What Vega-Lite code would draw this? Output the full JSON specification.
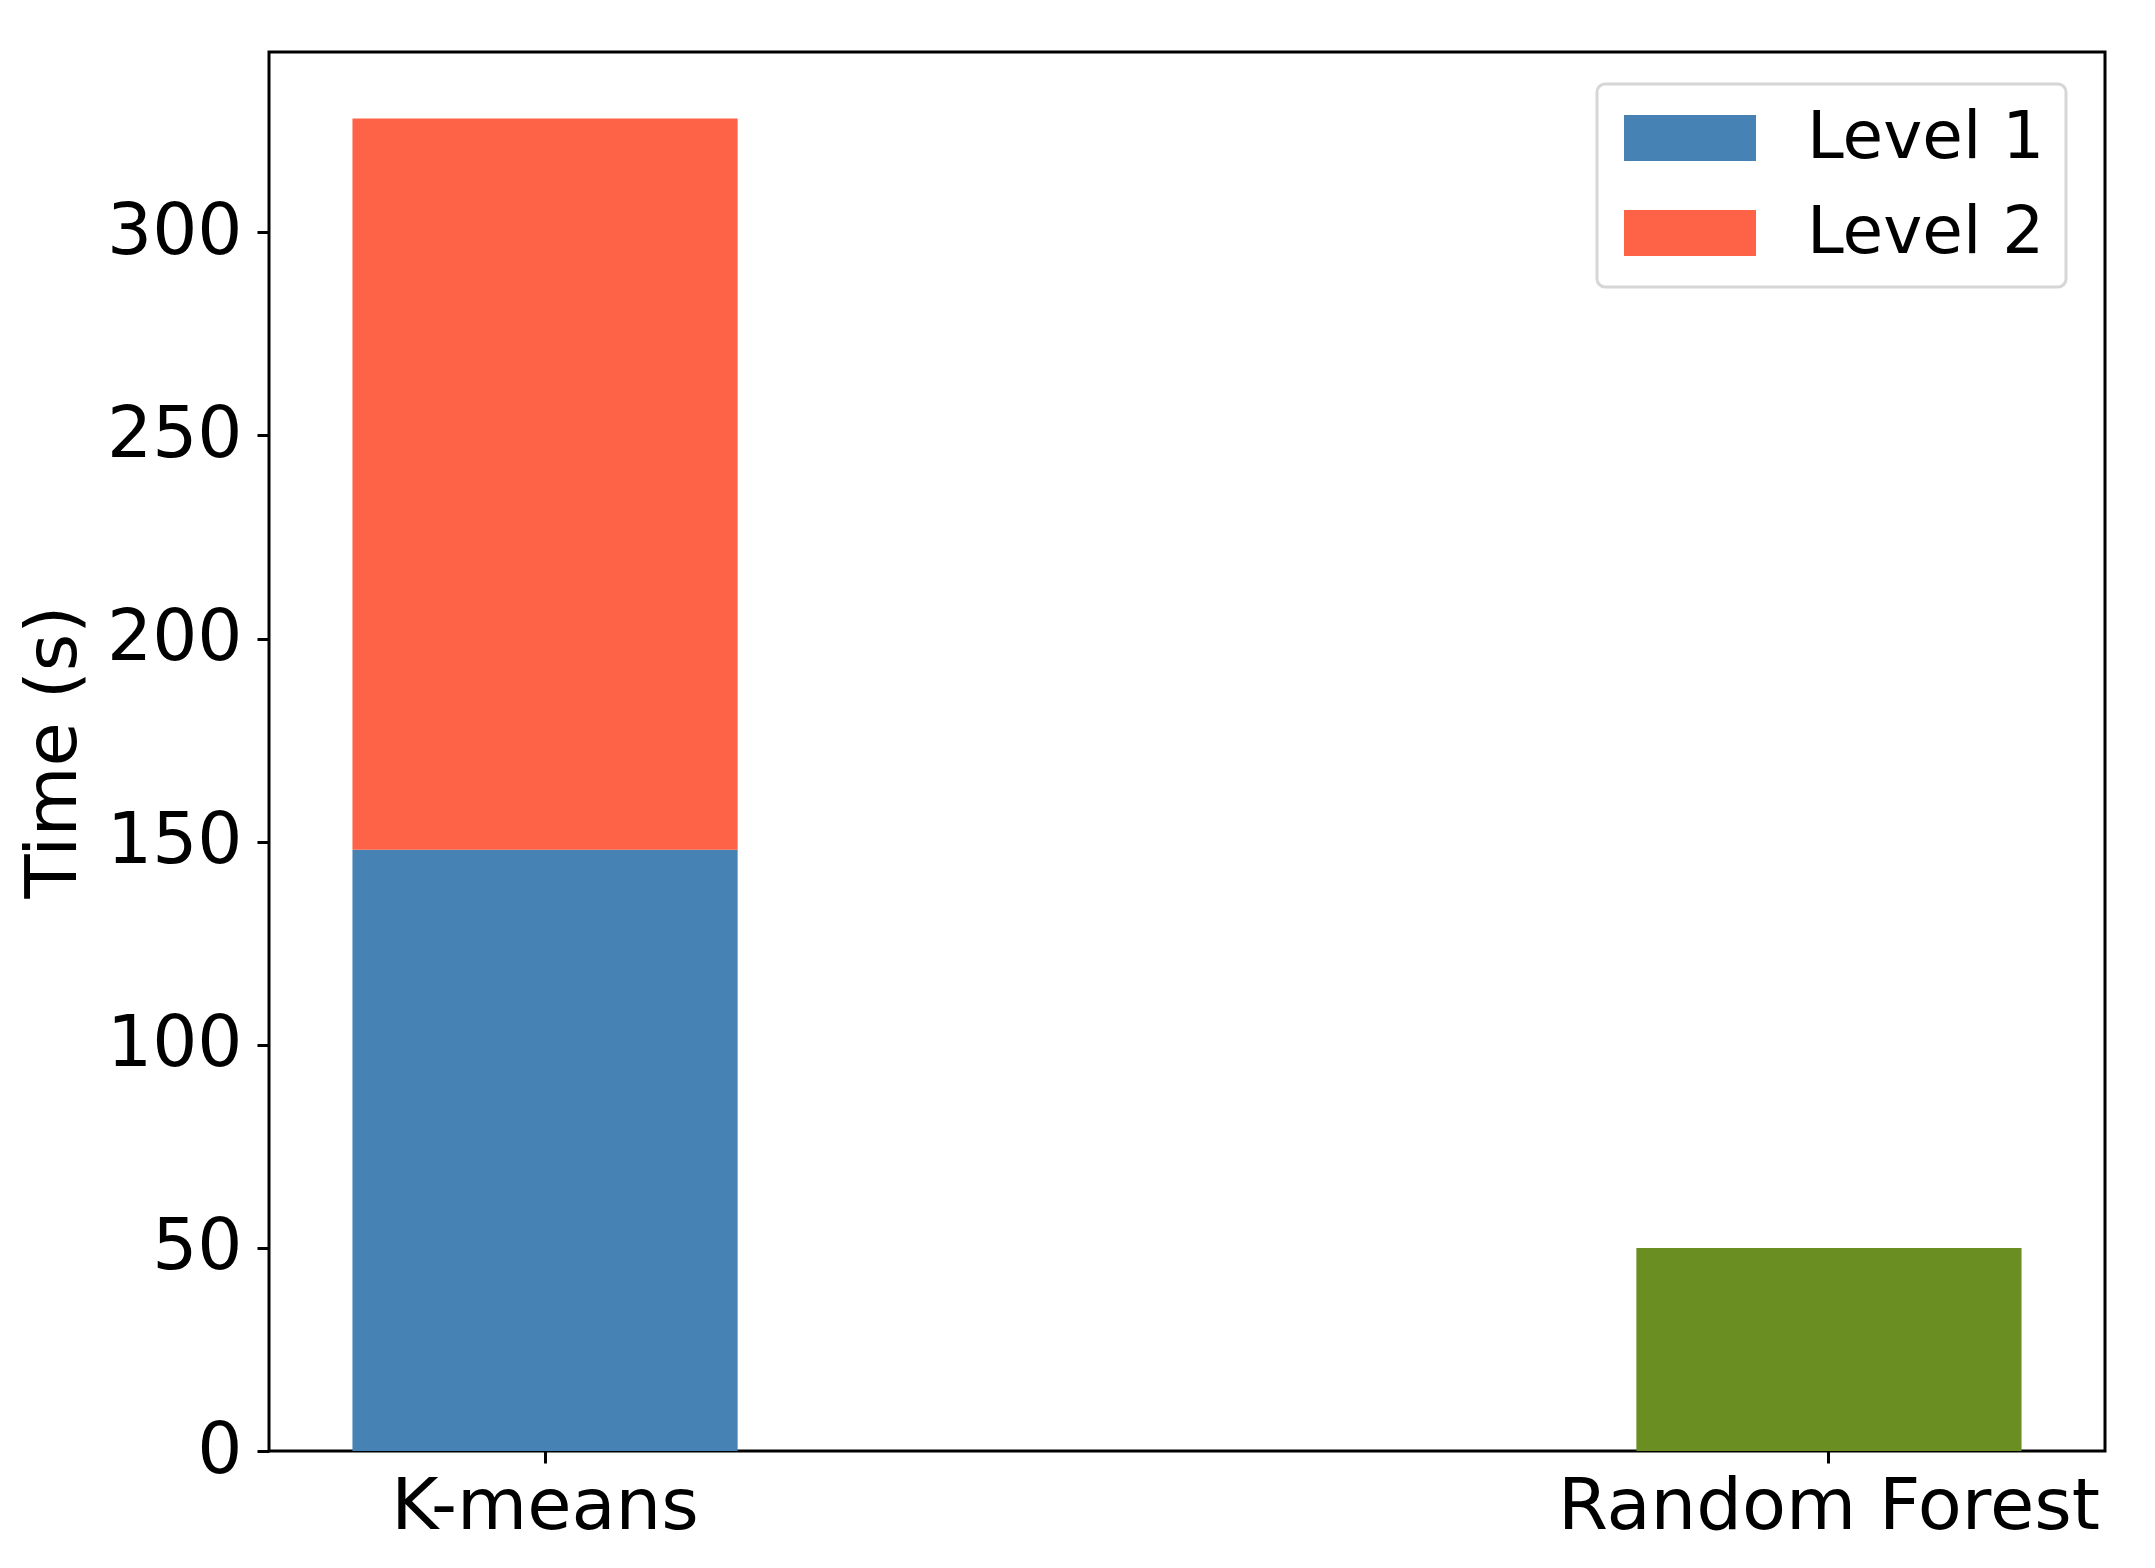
{
  "$schema": "https://vega.github.io/schema/vega-lite/v6.json",
  "autosize": {"type": "none"},
  "padding": {"left": 269, "top": 52, "right": 50, "bottom": 117},
  "width": 1836,
  "height": 1399,
  "background": "white",
  "data": {
    "values": [
      {"method": "K-means", "level": "Level 1", "time": 148},
      {"method": "K-means", "level": "Level 2", "time": 180},
      {"method": "Random Forest", "level": "Random Forest", "time": 50}
    ]
  },
  "mark": {"type": "bar", "strokeWidth": 0},
  "encoding": {
    "x": {
      "field": "method",
      "type": "nominal",
      "sort": ["K-means", "Random Forest"],
      "scale": {"paddingInner": 0.7, "paddingOuter": 0.065},
      "axis": {
        "title": null,
        "labelAngle": 0,
        "labelFontSize": 72,
        "labelColor": "black",
        "labelPadding": 8,
        "labelLimit": 2000,
        "tickSize": 12,
        "tickWidth": 3,
        "tickColor": "black",
        "domain": false,
        "grid": false
      }
    },
    "y": {
      "field": "time",
      "type": "quantitative",
      "stack": "zero",
      "scale": {"domain": [0, 344.4], "nice": false},
      "axis": {
        "title": "Time (s)",
        "values": [0, 50, 100, 150, 200, 250, 300],
        "titleFontSize": 72,
        "titleFontWeight": "normal",
        "titleColor": "black",
        "titlePadding": 16,
        "labelFontSize": 71,
        "labelColor": "black",
        "labelPadding": 15,
        "tickSize": 12,
        "tickWidth": 3,
        "tickColor": "black",
        "domain": false,
        "grid": false
      }
    },
    "order": {"field": "level", "type": "nominal", "sort": "ascending"},
    "color": {
      "field": "level",
      "type": "nominal",
      "scale": {
        "domain": ["Level 1", "Level 2", "Random Forest"],
        "range": ["#4682b4", "#ff6347", "#6b8e23"]
      },
      "legend": {
        "orient": "none",
        "legendX": 1328,
        "legendY": 32,
        "title": null,
        "values": ["Level 1", "Level 2"],
        "symbolType": "M-2,-0.697H2V0.697H-2Z",
        "symbolSize": 4356,
        "symbolStrokeWidth": 0,
        "symbolOpacity": 1,
        "symbolOffset": 39,
        "labelFontSize": 66,
        "labelColor": "black",
        "labelOffset": 84,
        "padding": 21,
        "rowPadding": 29,
        "fillColor": "white",
        "strokeColor": "#d6d6d6",
        "cornerRadius": 8,
        "encode": {"legend": {"update": {"strokeWidth": {"value": 3}}}}
      }
    }
  },
  "config": {
    "font": "DejaVu Sans",
    "view": {"stroke": "black", "strokeWidth": 3},
    "legend": {"labelLimit": 1000}
  }
}
